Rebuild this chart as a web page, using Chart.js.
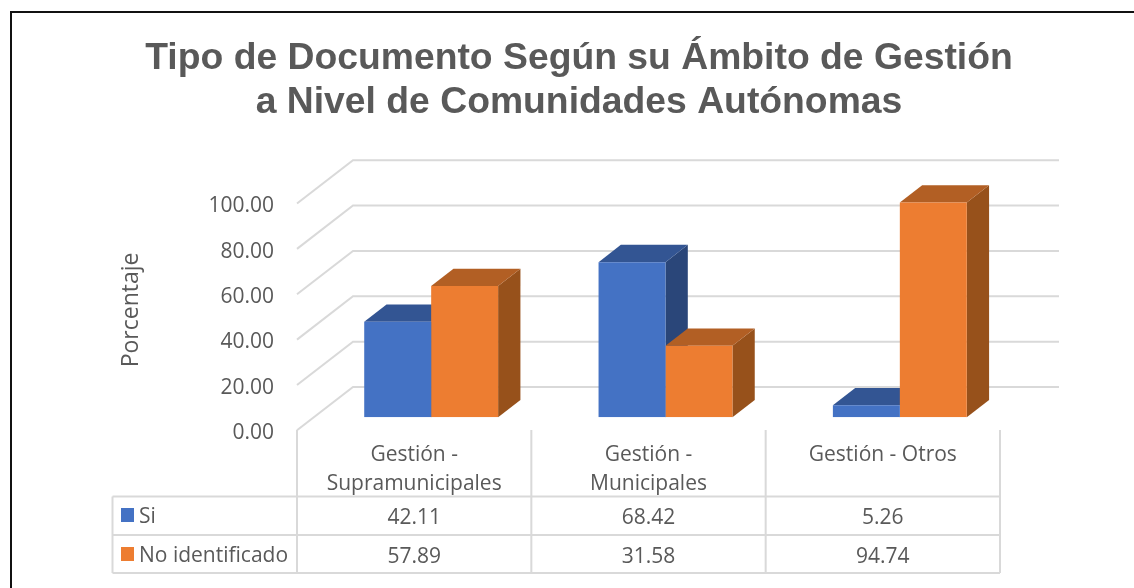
<!DOCTYPE html>
<html lang="es">
<head>
<meta charset="utf-8">
<title>Tipo de Documento</title>
<style>html,body{margin:0;padding:0;background:#fff}#wrap{width:1134px;height:588px}canvas{display:block}</style>
<script src="https://cdn.jsdelivr.net/npm/chart.js@4"></script>
</head>
<body>
<div id="wrap"><canvas id="c" width="1134" height="588"></canvas></div>
<script>
const titleLines = ["Tipo de Documento Según su Ámbito de Gestión", "a Nivel de Comunidades Autónomas"];
const categories = [["Gestión -", "Supramunicipales"], ["Gestión -", "Municipales"], ["Gestión - Otros"]];
const seriesNames = ["Si", "No identificado"];
const siValues = [42.11, 68.42, 5.26];
const noValues = [57.89, 31.58, 94.74];
const axisTitle = "Porcentaje";

const TEXT = "#595959", GRID = "#D9D9D9", FONT = '"Open Sans", sans-serif';
const frontFace = ["#4472C4", "#ED7D31"];
const topFace = ["#335593", "#B25F24"];
const sideFace = ["#2A4679", "#97511B"];
// projection of the 3D box, in pixels, relative to the bars' front plane
const BAR_DEPTH = {dx: 22.3, dy: -17.3};
const FRONT = {dx: -17, dy: 13};
const BACK = {dx: 39, dy: -30.3};
const WALL_EXTRA = 3;
const TABLE = {left: 112.5, head: 496.5, row1: 535, row2: 573, axis: 430};

const poly = (ctx, color, pts) => {
  ctx.fillStyle = color;
  ctx.beginPath();
  pts.forEach((p, i) => i ? ctx.lineTo(p[0], p[1]) : ctx.moveTo(p[0], p[1]));
  ctx.closePath();
  ctx.fill();
};

const scene = {
  id: "scene",
  afterLayout(chart) {
    const t = chart.titleBlock;
    t.left = 24; t.right = 1134;
    const y = chart.scales.y;
    if (!y._shifted) {
      y._shifted = true;
      const base = y.drawTitle;
      y.drawTitle = function () {
        const ctx = this.ctx;
        ctx.save(); ctx.translate(0, 6); base.apply(this, arguments); ctx.restore();
      };
    }
  },
  beforeDraw(chart) {
    const ctx = chart.ctx;
    ctx.save();
    ctx.fillStyle = "#fff";
    ctx.fillRect(0, 0, chart.width, chart.height);
    ctx.strokeStyle = "#111";
    ctx.lineWidth = 2;
    ctx.beginPath();
    ctx.moveTo(11, 588); ctx.lineTo(11, 12); ctx.lineTo(1134, 12);
    ctx.stroke();
    ctx.restore();
  },
  beforeDatasetsDraw(chart) {
    const ctx = chart.ctx, {x: xs, y: ys} = chart.scales;
    ctx.save();
    ctx.strokeStyle = GRID;
    ctx.lineWidth = 2;
    ys.ticks.forEach(tk => {
      const py = ys.getPixelForValue(tk.value);
      ctx.beginPath();
      ctx.moveTo(chart.chartArea.left + FRONT.dx, py + FRONT.dy);
      ctx.lineTo(chart.chartArea.left + BACK.dx, py + BACK.dy);
      ctx.lineTo(chart.chartArea.right + BACK.dx + WALL_EXTRA, py + BACK.dy);
      ctx.stroke();
    });
    chart.data.datasets.forEach((ds, d) => {
      chart.getDatasetMeta(d).data.forEach(bar => {
        const half = bar.width / 2, l = bar.x - half, r = bar.x + half, t = bar.y, b = bar.base;
        const dx = BAR_DEPTH.dx, dy = BAR_DEPTH.dy;
        poly(ctx, sideFace[d], [[r, t], [r + dx, t + dy], [r + dx, b + dy], [r, b]]);
        poly(ctx, topFace[d], [[l, t], [l + dx, t + dy], [r + dx, t + dy], [r, t]]);
      });
    });
    ctx.restore();
  },
  afterDraw(chart) {
    const ctx = chart.ctx, xs = chart.scales.x, area = chart.chartArea;
    const left = area.left + FRONT.dx, right = area.right + FRONT.dx;
    const cols = categories.map((_, i) => xs.getPixelForValue(i) + FRONT.dx);
    const width = (right - left) / categories.length;
    ctx.save();
    ctx.strokeStyle = GRID;
    ctx.lineWidth = 2;
    ctx.beginPath();
    [0, 1, 2, 3].forEach(i => {
      ctx.moveTo(left + width * i, TABLE.axis);
      ctx.lineTo(left + width * i, TABLE.row2);
    });
    ctx.moveTo(TABLE.left, TABLE.head); ctx.lineTo(TABLE.left, TABLE.row2);
    [TABLE.head, TABLE.row1, TABLE.row2].forEach(yy => {
      ctx.moveTo(TABLE.left, yy); ctx.lineTo(right, yy);
    });
    ctx.stroke();

    ctx.font = "21px " + FONT;
    ctx.textBaseline = "middle";
    const rows = [[siValues, 516], [noValues, 555]];
    rows.forEach(([vals, yy], r) => {
      ctx.fillStyle = frontFace[r];
      ctx.fillRect(121, yy - 8, 13, 14);
      ctx.fillStyle = TEXT;
      ctx.textAlign = "left";
      ctx.fillText(seriesNames[r], 139, yy + 1);
      ctx.textAlign = "center";
      vals.forEach((v, i) => ctx.fillText(v.toFixed(2), cols[i], yy + 2));
    });
    ctx.restore();
  }
};

new Chart(document.getElementById("c"), {
  type: "bar",
  data: {
    labels: categories,
    datasets: [
      {label: seriesNames[0], data: siValues, backgroundColor: frontFace[0]},
      {label: seriesNames[1], data: noValues, backgroundColor: frontFace[1]}
    ]
  },
  plugins: [scene],
  options: {
    responsive: false,
    animation: false,
    layout: {padding: {left: 0, right: 117, top: 0, bottom: 0}},
    datasets: {bar: {categoryPercentage: 0.5714, barPercentage: 1}},
    plugins: {
      legend: {display: false},
      tooltip: {enabled: false},
      title: {
        display: true,
        text: titleLines,
        color: TEXT,
        font: {family: '"Liberation Sans", Arial, sans-serif', size: 37.3, weight: "bold", lineHeight: 1.18},
        padding: {top: 36.5, bottom: 66}
      }
    },
    scales: {
      x: {
        grid: {display: false, drawTicks: false},
        border: {display: false},
        afterFit: s => { s.height = 170.7; },
        ticks: {
          autoSkip: false, maxRotation: 0, minRotation: 0,
          labelOffset: FRONT.dx, padding: 23,
          color: TEXT,
          font: {family: FONT, size: 21, lineHeight: 1.38}
        }
      },
      y: {
        min: 0, max: 100,
        grid: {display: false, drawTicks: false},
        border: {display: false},
        afterFit: s => { s.width = 314; },
        title: {
          display: true, text: axisTitle, color: TEXT,
          font: {family: FONT, size: 23},
          padding: {top: 118, bottom: 0}
        },
        ticks: {
          stepSize: 20, padding: 40, labelOffset: 15.7,
          color: TEXT,
          font: {family: FONT, size: 21},
          callback: v => Number(v).toFixed(2)
        }
      }
    }
  }
});
</script>
</body>
</html>
